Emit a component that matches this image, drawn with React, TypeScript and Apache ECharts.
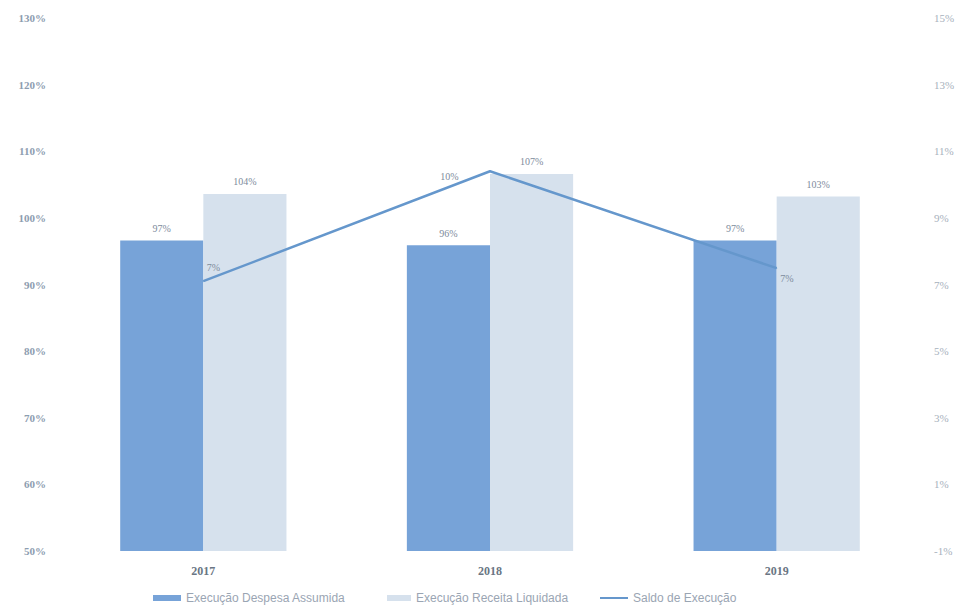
import React, { useEffect, useRef } from "react";
import * as echarts from "echarts";

const categories = ["2017", "2018", "2019"];
const despesaAssumida = [96.6, 95.9, 96.6];
const receitaLiquidada = [103.6, 106.6, 103.2];
const saldoExecucao = [7.1, 10.4, 7.49];

const leftMin = 50;
const leftMax = 130;
const rightMin = -1;
const rightMax = 15;

const FONT = "Liberation Serif";
const LEGEND_FONT = "Liberation Sans";
const AXIS_TEXT = "#8d9db0";
const LINE_COLOR = "#6597cc";

const legendText = { fontFamily: LEGEND_FONT, fontSize: 12, color: "#9aa5b3" };

export default function App() {
  const ref = useRef<HTMLDivElement>(null);
  useEffect(() => {
    if (!ref.current) return;
    const chart = echarts.init(ref.current, undefined, { renderer: "svg" });
    const pct = (p: any) => Math.round(p.value) + "%";
    chart.setOption({
      animation: false,
      backgroundColor: "#ffffff",
      textStyle: { fontFamily: FONT },
      grid: { left: 60, right: 42, top: 18, bottom: 62 },
      legend: [
        {
          left: 148,
          bottom: 4,
          itemWidth: 28,
          itemHeight: 6,
          textStyle: legendText,
          data: [{ name: "Execução Despesa Assumida", icon: "rect" }],
        },
        {
          left: 382,
          bottom: 4,
          itemWidth: 24,
          itemHeight: 6,
          textStyle: legendText,
          data: [{ name: "Execução Receita Liquidada", icon: "rect" }],
        },
        {
          left: 595,
          bottom: 4,
          itemWidth: 28,
          itemHeight: 6,
          textStyle: legendText,
          data: [
            {
              name: "Saldo de Execução",
              icon: "path://M0,0 L28,0 L28,2 L0,2 Z",
            },
          ],
        },
      ],
      xAxis: {
        type: "category",
        data: categories,
        axisLine: { show: false },
        axisTick: { show: false },
        axisLabel: {
          fontFamily: FONT,
          fontSize: 12,
          fontWeight: "bold",
          color: "#6a7684",
          margin: 14,
        },
      },
      yAxis: [
        {
          type: "value",
          min: leftMin,
          max: leftMax,
          interval: 10,
          splitLine: { show: false },
          axisLine: { show: false },
          axisTick: { show: false },
          axisLabel: {
            fontFamily: FONT,
            fontSize: 11,
            fontWeight: "bold",
            color: AXIS_TEXT,
            margin: 14,
            formatter: (v: number) => v + "%",
          },
        },
        {
          type: "value",
          min: rightMin,
          max: rightMax,
          interval: 2,
          splitLine: { show: false },
          axisLine: { show: false },
          axisTick: { show: false },
          axisLabel: {
            fontFamily: FONT,
            fontSize: 11,
            color: "#a7b1bc",
            margin: 14,
            formatter: (v: number) => v + "%",
          },
        },
      ],
      series: [
        {
          name: "Execução Despesa Assumida",
          type: "bar",
          data: despesaAssumida,
          barGap: "0%",
          barCategoryGap: "42%",
          itemStyle: { color: "#77a3d8" },
          label: {
            show: true,
            position: "top",
            distance: 7,
            fontFamily: FONT,
            fontSize: 10,
            color: "#7d8b9c",
            formatter: pct,
          },
        },
        {
          name: "Execução Receita Liquidada",
          type: "bar",
          data: receitaLiquidada,
          itemStyle: { color: "#d6e1ed" },
          label: {
            show: true,
            position: "top",
            distance: 7,
            fontFamily: FONT,
            fontSize: 10,
            color: "#7d8b9c",
            formatter: pct,
          },
        },
        {
          name: "Saldo de Execução",
          type: "line",
          yAxisIndex: 1,
          data: [
            { value: saldoExecucao[0], label: { position: "right", offset: [-2, -14] } },
            { value: saldoExecucao[1], label: { position: "left", offset: [-26, 5] } },
            { value: saldoExecucao[2], label: { position: "right", offset: [-2, 10] } },
          ],
          symbol: "circle",
          symbolSize: 1,
          showSymbol: true,
          lineStyle: { color: LINE_COLOR, width: 2.5 },
          itemStyle: { color: LINE_COLOR },
          z: 5,
          label: {
            show: true,
            fontFamily: FONT,
            fontSize: 10,
            color: "#7d8b9c",
            formatter: pct,
          },
        },
      ],
    });
    return () => chart.dispose();
  }, []);
  return (
    <div
      ref={ref}
      style={{ position: "fixed", left: 0, top: 0, width: 962, height: 613 }}
    />
  );
}
